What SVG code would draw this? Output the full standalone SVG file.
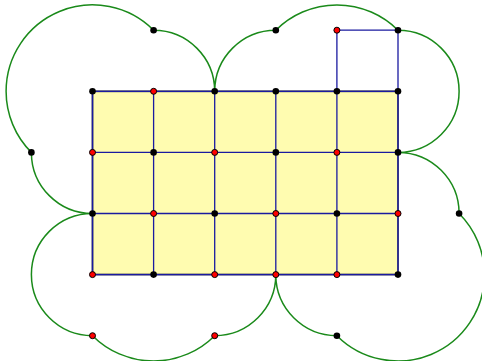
<svg xmlns="http://www.w3.org/2000/svg" width="482" height="361" viewBox="0 0 482 361">
<style>
.fill{fill:#fffcb0;stroke:#666;stroke-width:2}
.e{stroke:#1a1aa0;stroke-width:1.3;fill:none}
.arc{stroke:#1a8a1a;stroke-width:1.5;fill:none}
.b{fill:#000}
.r{fill:#f00;stroke:#000;stroke-width:1}
</style>
<rect x="0" y="0" width="482" height="361" fill="#fff"/>
<polygon class="fill" points="92.5,91.3 398,91.3 398,274.6 92.5,274.6"/>
<g id="connectors">
<path class="arc" d="M214.7,91.3 A61.1,61.1 0 0 0 153.6,30.2 A86.4,86.4 0 0 0 6.1,91.3 A86.4,86.4 0 0 0 31.4,152.4 A61.1,61.1 0 0 0 92.5,213.5 A61.1,61.1 0 0 0 31.4,274.6 A61.1,61.1 0 0 0 92.5,335.7 A86.4,86.4 0 0 0 214.7,335.7 A61.1,61.1 0 0 0 275.8,274.6 A61.1,61.1 0 0 0 336.9,335.7 A86.4,86.4 0 0 0 484.4,274.6 A86.4,86.4 0 0 0 459.1,213.5 A61.1,61.1 0 0 0 398,152.4 A61.1,61.1 0 0 0 459.1,91.3 A61.1,61.1 0 0 0 398,30.2 A86.4,86.4 0 0 0 275.8,30.2 A61.1,61.1 0 0 0 214.7,91.3"/>
<path class="e" d="M92.5,91.3H398M92.5,152.4H398M92.5,213.5H398M92.5,274.6H398M92.5,91.3V274.6M153.6,91.3V274.6M214.7,91.3V274.6M275.8,91.3V274.6M336.9,91.3V274.6M398,91.3V274.6M336.9,91.3V30.2H398V91.3"/>
</g>
<g id="n-o1"><circle class="b" cx="153.6" cy="30.2" r="3.3"/></g>
<g id="n-o2"><circle class="b" cx="275.8" cy="30.2" r="3.3"/></g>
<g id="n-t1"><circle class="r" cx="336.9" cy="30.2" r="3"/></g>
<g id="n-t2"><circle class="b" cx="398" cy="30.2" r="3.3"/></g>
<g id="n-1-0"><circle class="b" cx="92.5" cy="91.3" r="3.3"/></g>
<g id="n-1-1"><circle class="r" cx="153.6" cy="91.3" r="3"/></g>
<g id="n-1-2"><circle class="b" cx="214.7" cy="91.3" r="3.3"/></g>
<g id="n-1-3"><circle class="b" cx="275.8" cy="91.3" r="3.3"/></g>
<g id="n-1-4"><circle class="b" cx="336.9" cy="91.3" r="3.3"/></g>
<g id="n-1-5"><circle class="b" cx="398" cy="91.3" r="3.3"/></g>
<g id="n-o3"><circle class="b" cx="31.4" cy="152.4" r="3.3"/></g>
<g id="n-2-0"><circle class="r" cx="92.5" cy="152.4" r="3"/></g>
<g id="n-2-1"><circle class="b" cx="153.6" cy="152.4" r="3.3"/></g>
<g id="n-2-2"><circle class="r" cx="214.7" cy="152.4" r="3"/></g>
<g id="n-2-3"><circle class="b" cx="275.8" cy="152.4" r="3.3"/></g>
<g id="n-2-4"><circle class="r" cx="336.9" cy="152.4" r="3"/></g>
<g id="n-2-5"><circle class="b" cx="398" cy="152.4" r="3.3"/></g>
<g id="n-3-0"><circle class="b" cx="92.5" cy="213.5" r="3.3"/></g>
<g id="n-3-1"><circle class="r" cx="153.6" cy="213.5" r="3"/></g>
<g id="n-3-2"><circle class="b" cx="214.7" cy="213.5" r="3.3"/></g>
<g id="n-3-3"><circle class="r" cx="275.8" cy="213.5" r="3"/></g>
<g id="n-3-4"><circle class="b" cx="336.9" cy="213.5" r="3.3"/></g>
<g id="n-3-5"><circle class="r" cx="398" cy="213.5" r="3"/></g>
<g id="n-o4"><circle class="b" cx="459.1" cy="213.5" r="3.3"/></g>
<g id="n-4-0"><circle class="r" cx="92.5" cy="274.6" r="3"/></g>
<g id="n-4-1"><circle class="b" cx="153.6" cy="274.6" r="3.3"/></g>
<g id="n-4-2"><circle class="r" cx="214.7" cy="274.6" r="3"/></g>
<g id="n-4-3"><circle class="r" cx="275.8" cy="274.6" r="3"/></g>
<g id="n-4-4"><circle class="r" cx="336.9" cy="274.6" r="3"/></g>
<g id="n-4-5"><circle class="b" cx="398" cy="274.6" r="3.3"/></g>
<g id="n-o5"><circle class="r" cx="92.5" cy="335.7" r="3"/></g>
<g id="n-o6"><circle class="r" cx="214.7" cy="335.7" r="3"/></g>
<g id="n-o7"><circle class="b" cx="336.9" cy="335.7" r="3.3"/></g>
</svg>
